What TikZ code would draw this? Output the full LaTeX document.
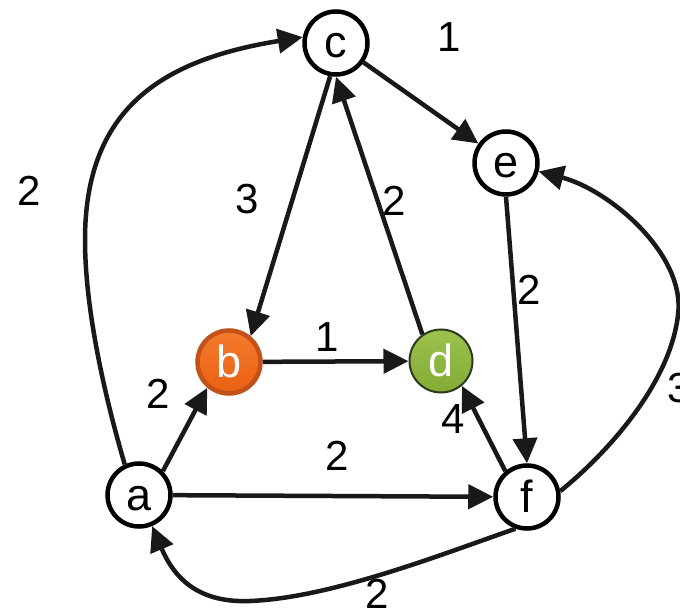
\documentclass[tikz,border=0pt]{standalone}
\usepackage{fontspec}
\setmainfont{Liberation Sans}
\usetikzlibrary{arrows.meta}
\definecolor{bfillA}{HTML}{F47B2C}
\definecolor{bfillB}{HTML}{EA6014}
\definecolor{bring}{HTML}{C2521A}
\definecolor{dfillA}{HTML}{9CC24E}
\definecolor{dfillB}{HTML}{83AB36}
\definecolor{dring}{HTML}{2E3A1C}
\begin{document}
\begin{tikzpicture}[x=1pt,y=-1pt,
  vertex/.style={circle, draw=black, line width=4.5pt, fill=white,
    minimum size=63pt, inner sep=0pt,
    font=\fontsize{45}{45}\selectfont, text height=31pt, text depth=1pt},
  orangev/.style={vertex, draw=bring, top color=bfillA, bottom color=bfillB, text=white},
  greenv/.style={vertex, draw=dring, line width=2pt, top color=dfillA, bottom color=dfillB, text=white},
  edge/.style={line width=4.5pt, draw=black!90, -{Triangle[length=25pt,width=24pt]}},
  lbl/.style={inner sep=0pt, font=\fontsize{42}{42}\selectfont}
]
\useasboundingbox (0,0) rectangle (680,612);

% vertices
\node[vertex]  (c) at (336,43)  {c};
\node[vertex]  (e) at (506,163) {e};
\node[orangev] (b) at (229,362) {b};
\node[greenv]  (d) at (441,361) {d};
\node[vertex]  (a) at (139,495) {a};
\node[vertex]  (f) at (527,497) {f};

% straight connectors
\draw[edge] (c) -- (e);
\draw[edge] (c.260) -- (b.50);
\draw[edge] (d.125) -- (c.270);
\draw[edge] (b) -- (d);
\draw[edge] (a.45) -- (b.230);
\draw[edge] (a) -- (f);
\draw[edge] (f.130) -- (d.310);
\draw[edge] (e.south) -- (f.north);

% curved connectors
\draw[edge] (a.115) .. controls (100,380) and (85,300) .. (85,240)
  .. controls (85,110) and (160,60) .. (c.170);
\draw[edge] (f.10) .. controls (605,455) and (670,385) .. (678,315)
  .. controls (686,255) and (610,190) .. (e);
\draw[edge] (f.250) .. controls (440,555) and (330,598) .. (250,601)
  .. controls (200,603) and (175,580) .. (a);

% weights
\node[lbl] (wce) at (449,37)  {1};
\node[lbl] (wac) at (29,191)  {2};
\node[lbl] (wcb) at (247,199) {3};
\node[lbl] (wdc) at (394,201) {2};
\node[lbl] (wef) at (529,290) {2};
\node[lbl] (wbd) at (327,337) {1};
\node[lbl] (wab) at (158,394) {2};
\node[lbl] (wfd) at (453,419) {4};
\node[lbl] (waf) at (337,456) {2};
\node[lbl] (wfe) at (679,388) {3};
\node[lbl] (wfa) at (377,594) {2};
\end{tikzpicture}
\end{document}
